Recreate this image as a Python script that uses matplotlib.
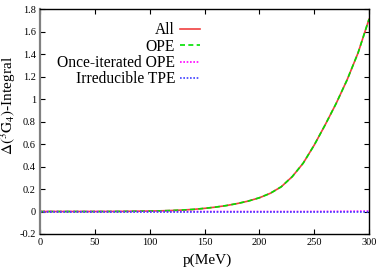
import matplotlib
matplotlib.use("Agg")
import matplotlib.pyplot as plt
from matplotlib.ticker import FixedLocator, FuncFormatter

plt.rcParams['font.family'] = ['Liberation Serif', 'DejaVu Serif']
plt.rcParams['mathtext.fontset'] = 'stix'

p = [0, 25, 50, 75, 100, 110, 120, 130, 140, 150, 160, 170, 180, 190, 200,
     210, 220, 230, 240, 250, 260, 270, 280, 290, 300]
all_vals = [0.0, 0.0, 0.0, 0.001, 0.004, 0.006, 0.009, 0.013, 0.019, 0.028, 0.039,
            0.053, 0.071, 0.093, 0.122, 0.162, 0.22, 0.31, 0.43, 0.59, 0.77,
            0.96, 1.17, 1.41, 1.71]
ope_vals = [0.0, 0.0, 0.0, 0.001, 0.004, 0.006, 0.009, 0.013, 0.019, 0.028, 0.039,
            0.053, 0.071, 0.093, 0.122, 0.162, 0.22, 0.31, 0.43, 0.59, 0.77,
            0.96, 1.17, 1.41, 1.71]
once_iter = [0.0, 0.0, 0.0, 0.0, 0.0, 0.0, 0.0, 0.0, 0.0, 0.0, 0.0,
             0.0, 0.0, 0.0, 0.0, 0.0, 0.0, 0.0, 0.0, 0.0005, 0.001,
             0.0015, 0.002, 0.003, 0.004]
irr_tpe = [0.0] * len(p)

xticks = [0, 50, 100, 150, 200, 250, 300]
yticks = [-0.2, 0, 0.2, 0.4, 0.6, 0.8, 1.0, 1.2, 1.4, 1.6, 1.8]

fig = plt.figure(figsize=(3.82, 2.67), dpi=100)
ax = fig.add_axes([0.1047, 0.1236, 0.8613, 0.8424])

ax.plot(p, all_vals, color='#f04040', lw=1.2, ls='-', label='All')
ax.plot(p, ope_vals, color='#00e000', lw=1.2, ls=(0, (3, 2)), label='OPE')
ax.plot(p, once_iter, color='#ff00ff', lw=1.2, ls=(0, (1, 1)), label='Once-iterated OPE')
ax.plot(p, irr_tpe, color='#4040ff', lw=1.2, ls=(0, (1, 1)), label='Irreducible TPE')

ax.set_xlim(0, 300)
ax.set_ylim(-0.2, 1.8)
ax.xaxis.set_major_locator(FixedLocator(xticks))
ax.yaxis.set_major_locator(FixedLocator(yticks))

def yfmt(v, pos):
    s = f"{v:.1f}"
    if abs(v) < 1e-9:
        return "0"
    if s.endswith(".0"):
        s = s[:-2]
    return s

ax.yaxis.set_major_formatter(FuncFormatter(yfmt))
ax.tick_params(direction='in', which='both', top=True, right=True,
               length=3.5, width=0.8, labelsize=7.5, pad=3)
for s in ['top', 'right', 'bottom']:
    ax.spines[s].set_linewidth(1.0)
ax.spines['left'].set_color('#808080')
ax.spines['left'].set_linewidth(1.6)

ax.set_xlabel('p(MeV)', fontsize=11)
ax.xaxis.set_label_coords(0.51, -0.088)
ax.set_ylabel(r'$\Delta(^3\mathrm{G}_4)$-Integral', fontsize=11)
ax.yaxis.set_label_coords(-0.066, 0.573)

leg = ax.legend(loc='upper left', bbox_to_anchor=(0.033, 0.97), frameon=False,
                markerfirst=False, fontsize=11.2, handlelength=1.3,
                handletextpad=0.3, labelspacing=0.03, borderaxespad=0)

fig.savefig('out.png', dpi=100)
